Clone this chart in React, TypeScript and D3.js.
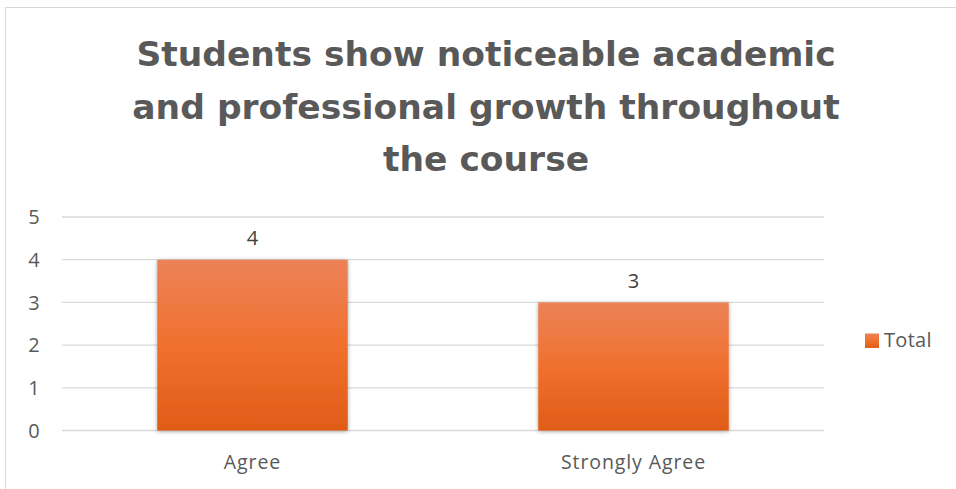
import React from "react";
import * as d3 from "d3";

const categories = ["Agree", "Strongly Agree"];
const values = [4, 3];
const yTicks = [0, 1, 2, 3, 4, 5];
const seriesName = "Total";
const titleLines = [
  "Students show noticeable academic",
  "and professional growth throughout",
  "the course",
];

export default function App() {
  const W = 956, H = 489;
  const plot = { left: 62, right: 824, top: 217, bottom: 430.5 };
  const x = d3.scaleBand<string>().domain(categories).range([plot.left, plot.right]).paddingInner(0.5).paddingOuter(0.25);
  const y = d3.scaleLinear().domain([0, 5]).range([plot.bottom, plot.top]);
  const font = "'Open Sans', sans-serif";
  const textColor = "#595959";
  return (
    <svg width={W} height={H} style={{ position: "fixed", left: 0, top: 0 }}>
      <defs>
        <linearGradient id="barGrad" x1="0" y1="0" x2="0" y2="1">
          <stop offset="0" stopColor="#EC8258" />
          <stop offset="0.5" stopColor="#F0702E" />
          <stop offset="1" stopColor="#E05C18" />
        </linearGradient>
        <filter id="shadow" x="-10%" y="-10%" width="120%" height="120%">
          <feGaussianBlur in="SourceAlpha" stdDeviation="2" />
          <feOffset dx="0" dy="1" result="b" />
          <feComponentTransfer><feFuncA type="linear" slope="0.35" /></feComponentTransfer>
          <feMerge><feMergeNode /><feMergeNode in="SourceGraphic" /></feMerge>
        </filter>
      </defs>
      <rect x={0} y={0} width={W} height={H} fill="#fff" />
      <rect x={5.5} y={7.5} width={W + 10} height={H + 10} fill="#fff" stroke="#D9D9D9" strokeWidth={1} />
      {titleLines.map((t, i) => (
        <text key={i} x={486} y={66 + i * 52.5} textAnchor="middle" fontFamily="'DejaVu Sans', sans-serif" fontWeight={700} fontSize={34.5} fill={textColor}>{t}</text>
      ))}
      {yTicks.map((t) => (
        <g key={t}>
          <line x1={plot.left} x2={plot.right} y1={y(t)} y2={y(t)} stroke="#D9D9D9" strokeWidth={1.3} />
          <text x={34} y={y(t)} dy="0.36em" textAnchor="middle" fontFamily={font} fontSize={20} fill={textColor}>{t}</text>
        </g>
      ))}
      {categories.map((c, i) => (
        <g key={c}>
          <rect x={x(c)} y={y(values[i])} width={x.bandwidth()} height={y(0) - y(values[i])} fill="url(#barGrad)" filter="url(#shadow)" />
          <text x={x(c)! + x.bandwidth() / 2} y={y(values[i]) - 22} dy="0.36em" textAnchor="middle" fontFamily={font} fontSize={20} fill="#404040">{values[i]}</text>
          <text x={x(c)! + x.bandwidth() / 2} y={469} textAnchor="middle" fontFamily={font} fontSize={19.5} letterSpacing={0.9} fill={textColor}>{c}</text>
        </g>
      ))}
      <rect x={865} y={333.5} width={14} height={14.5} fill="url(#barGrad)" />
      <text x={884} y={347} fontFamily={font} fontSize={20} letterSpacing={0.3} fill={textColor}>{seriesName}</text>
    </svg>
  );
}
